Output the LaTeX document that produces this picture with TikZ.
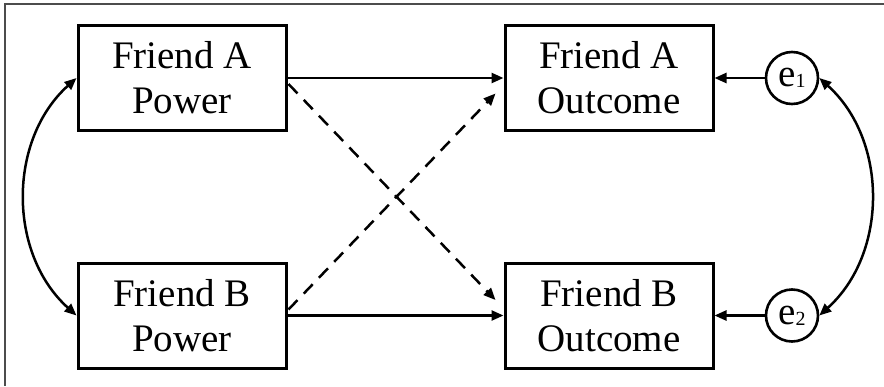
\documentclass[tikz,border=0pt]{standalone}
\usepackage{fontspec}
\setmainfont{Liberation Serif}
\usetikzlibrary{arrows.meta,calc}
\begin{document}
\begin{tikzpicture}[x=1pt,y=-1pt,
  box/.style={draw, line width=3pt, minimum width=208pt, minimum height=105pt, inner sep=0pt, align=center, font=\fontsize{39}{45}\selectfont},
  err/.style={draw, circle, line width=2.6pt, minimum size=52pt, inner sep=0pt, font=\fontsize{39}{39}\selectfont},
  arr/.style={line width=2.5pt, -{Triangle[length=12pt,width=10pt]}},
  dbl/.style={line width=2.5pt, {Triangle[length=12pt,width=10pt]}-{Triangle[length=12pt,width=10pt]}},
  dsh/.style={arr, dash pattern=on 13pt off 9pt},
  frame/.style={draw=black!70, line width=1.5pt}]
\useasboundingbox (0,0) rectangle (884,386);
\coordinate (tl) at (5,4);
\coordinate (tr) at (884,4);
\coordinate (bl) at (5,386);
\draw[frame] (tr) -- (tl) -- (bl);

\node[box] (ap) at (182,78) {Friend A\\Power};
\node[box] (ao) at (609,78) {Friend A\\Outcome};
\node[box] (bp) at (182,315.5) {Friend B\\Power};
\node[box] (bo) at (609,315.5) {Friend B\\Outcome};
\node[err] (e1) at (792,78) {e\raisebox{-1pt}{\fontsize{20}{20}\selectfont 1}};
\node[err] (e2) at (792,315.5) {e\raisebox{-1pt}{\fontsize{20}{20}\selectfont 2}};

\draw[arr] (ap) -- (ao);
\draw[arr] (bp) -- (bo);
\draw[arr] (e1) -- (ao);
\draw[arr] (e2) -- (bo);

\draw[dsh] ($(ap.east)+(1,6)$) -- ($(bo.west)+(-8,-15.5)$);
\draw[dsh] ($(bp.east)+(1,-6)$) -- ($(ao.west)+(-8,15.5)$);

\draw[dbl] (ap.west) to[bend right=48] (bp.west);
\draw[dbl] (e1.east) to[bend left=48] (e2.east);
\end{tikzpicture}
\end{document}
